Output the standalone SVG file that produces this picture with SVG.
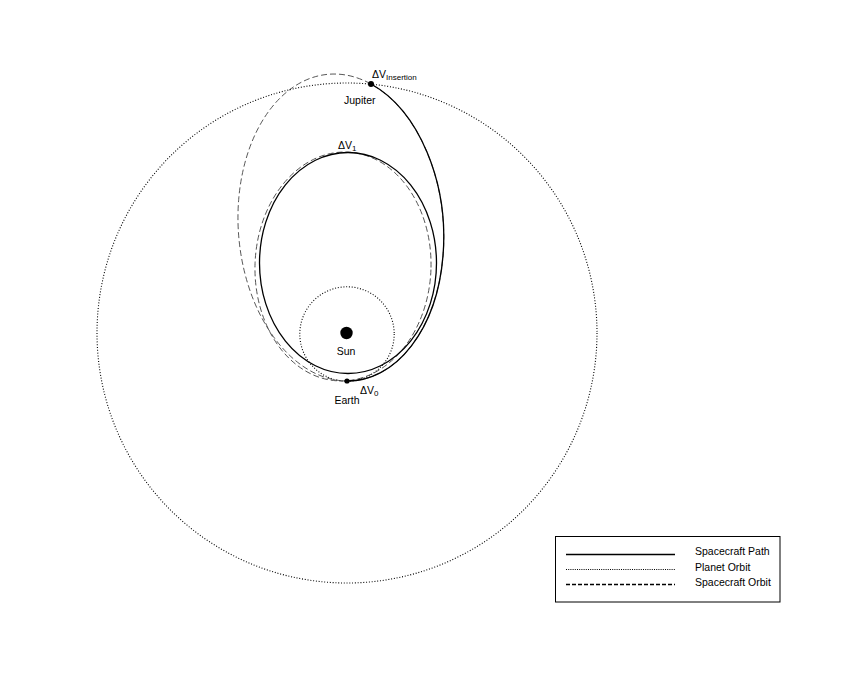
<svg xmlns="http://www.w3.org/2000/svg" width="859" height="687" viewBox="0 0 859 687">
<style>
text{font-family:"Liberation Sans",Arial,Helvetica,sans-serif;fill:#000}
.lbl{font-size:10.5px}
.sub{font-size:8px}
.solid{fill:none;stroke:#000;stroke-width:1.3}
.dot{fill:none;stroke:#000;stroke-width:1.1;stroke-dasharray:1 1.8}
.dash{fill:none;stroke:#444;stroke-width:0.9;stroke-dasharray:6 3}
</style>
<rect width="859" height="687" fill="#fff"/>
<g id="orbits">
<circle id="jupiter-orbit" class="dot" cx="347" cy="333" r="250"/>
<circle id="earth-orbit" class="dot" cx="347" cy="334" r="47.2"/>
<ellipse id="orbit-a" class="dash" cx="343" cy="266.5" rx="88" ry="114.5" transform="rotate(2 343 266.5)"/>
<path id="orbit-b" class="dash" d="M347,381 A102.5,153.75 -4.5 0 0 371,84 A102.5,153.75 -4.5 1 0 347,381 Z"/>
</g>
<g id="connectors">
<ellipse id="path-a" class="solid" cx="348" cy="263" rx="88.5" ry="110.5"/>
<path id="path-b" class="solid" d="M347,381 A102.5,153.75 -4.5 0 0 371,84"/>
</g>
<g id="sun">
<circle cx="346.5" cy="333" r="6.2" fill="#000"/>
<text class="lbl" x="346" y="355" text-anchor="middle">Sun</text>
</g>
<g id="earth">
<circle cx="347" cy="381" r="2.6" fill="#000"/>
<text class="lbl" x="334.5" y="403.5">Earth</text>
<text class="lbl" x="360" y="393.5">ΔV<tspan class="sub" dy="2">0</tspan></text>
</g>
<g id="jupiter">
<circle cx="371" cy="84" r="3" fill="#000"/>
<text class="lbl" x="344" y="103.5">Jupiter</text>
<text class="lbl" x="372" y="78">ΔV<tspan class="sub" dy="1.5">Insertion</tspan></text>
</g>
<g id="dv1">
<text class="lbl" x="338" y="148.5">ΔV<tspan class="sub" dy="2">1</tspan></text>
</g>
<g id="legend">
<rect x="555.5" y="536.5" width="224.5" height="65.5" fill="#fff" stroke="#000" stroke-width="1"/>
<line x1="566" y1="554.5" x2="675" y2="554.5" stroke="#000" stroke-width="1.5"/>
<line x1="566" y1="569.5" x2="675" y2="569.5" stroke="#000" stroke-width="1.2" stroke-dasharray="1 1.2"/>
<line x1="566" y1="584.5" x2="675" y2="584.5" stroke="#000" stroke-width="1.4" stroke-dasharray="4 2"/>
<text class="lbl" x="695" y="555">Spacecraft Path</text>
<text class="lbl" x="695" y="570.5">Planet Orbit</text>
<text class="lbl" x="695" y="586">Spacecraft Orbit</text>
</g>
</svg>
